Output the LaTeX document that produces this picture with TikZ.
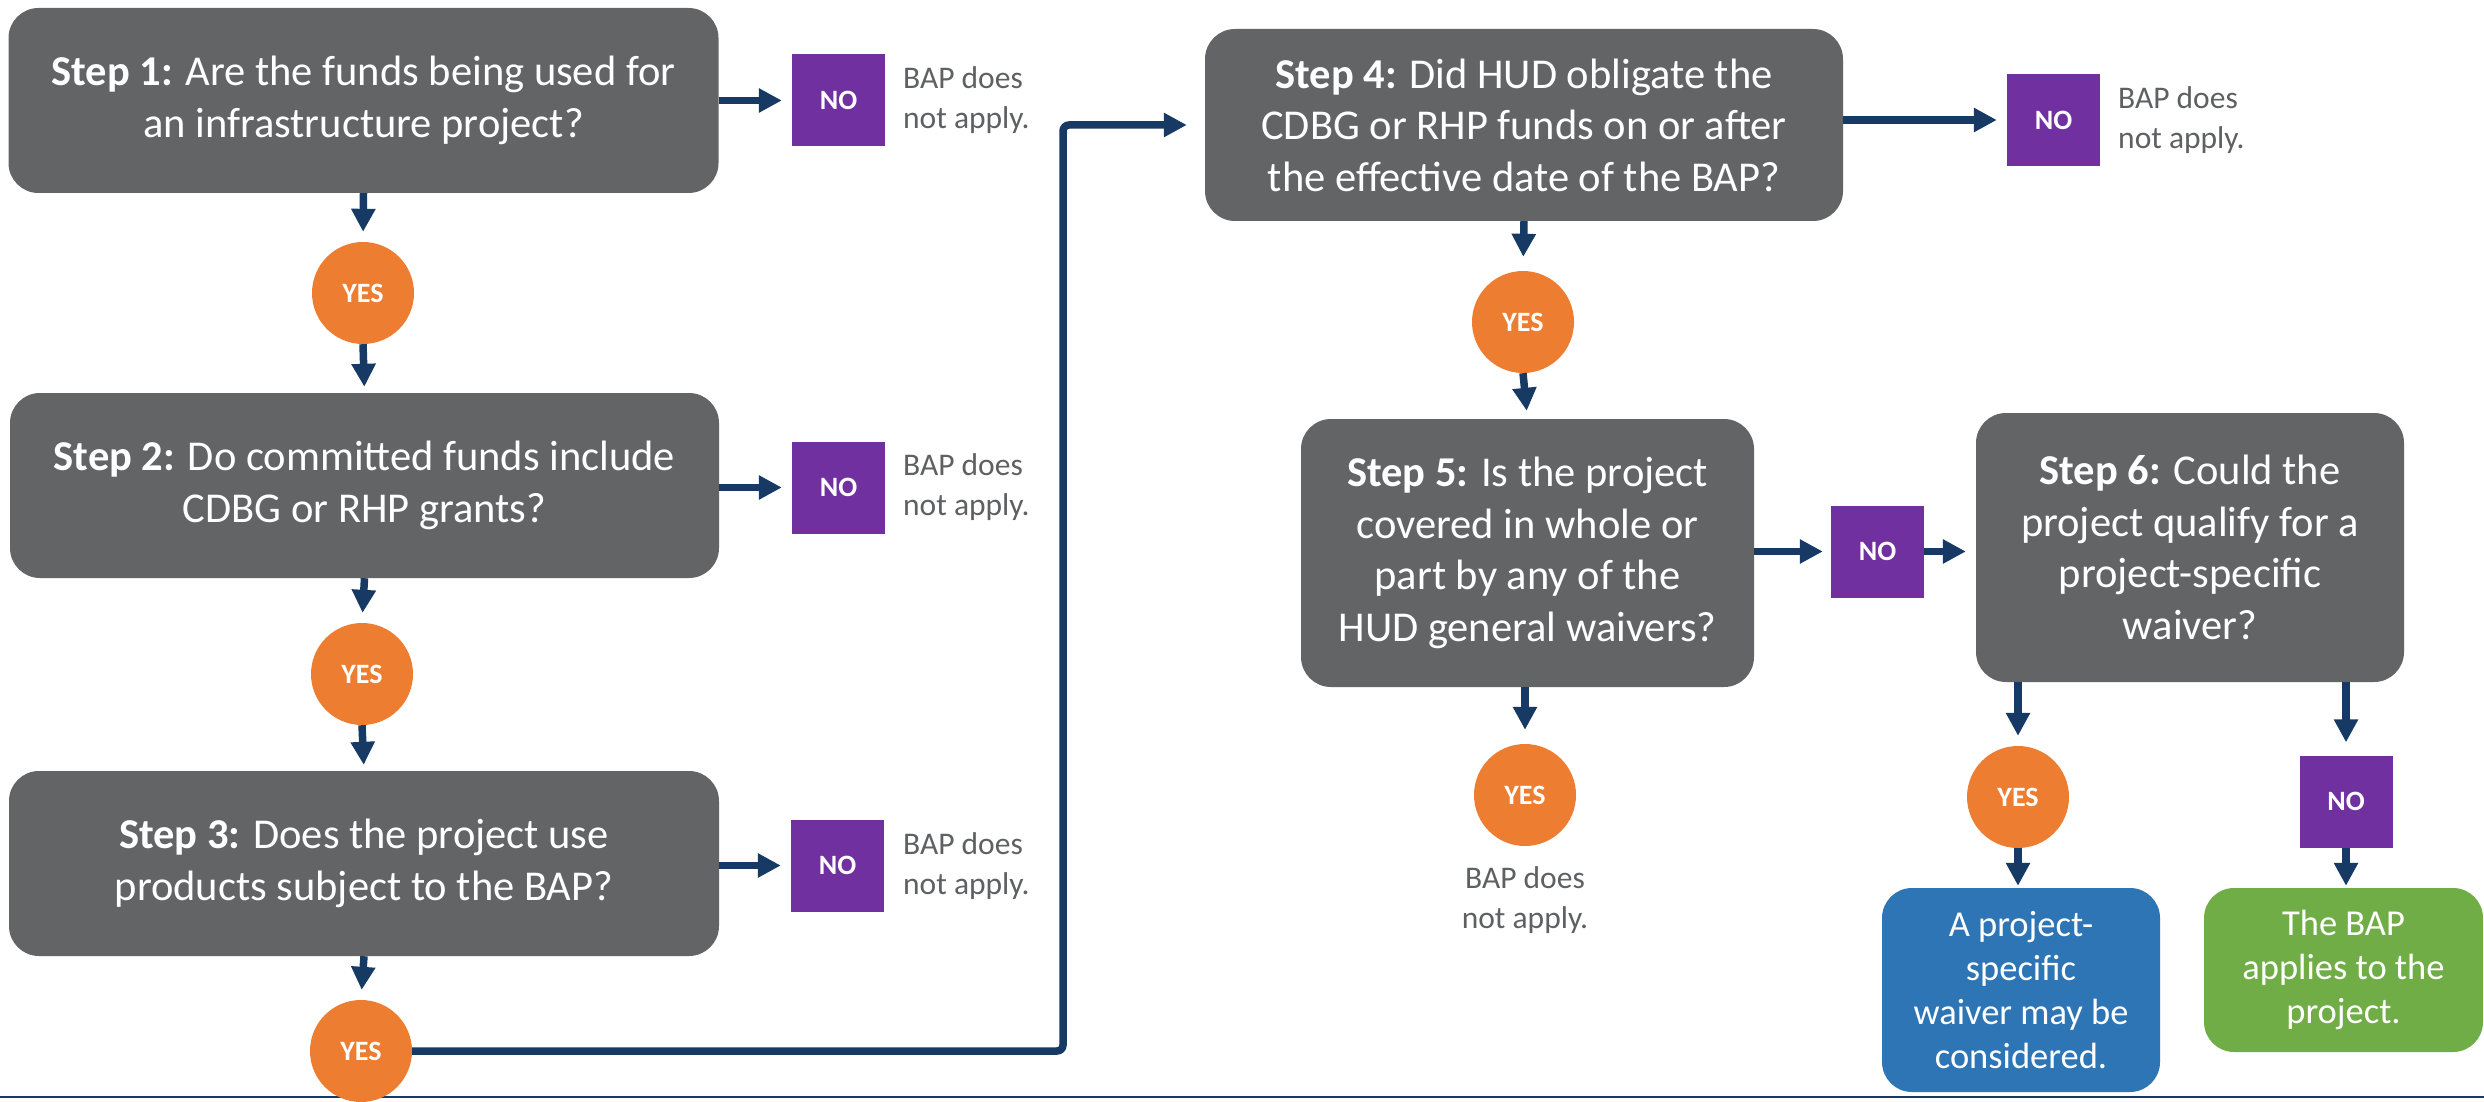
\documentclass[tikz,border=0pt]{standalone}
\usepackage{fontspec}
\setmainfont{Carlito}
\usetikzlibrary{arrows.meta,calc}
\definecolor{boxgray}{HTML}{636466}
\definecolor{nopurple}{HTML}{7030A0}
\definecolor{yesorange}{HTML}{ED7D31}
\definecolor{navy}{HTML}{173A64}
\definecolor{resblue}{HTML}{2E75B6}
\definecolor{resgreen}{HTML}{70AD47}
\definecolor{notegray}{HTML}{5F6062}
\begin{document}
\begin{tikzpicture}[x=1pt,y=-1pt,
 stepbox/.style={fill=boxgray, rounded corners=30pt, text=white, align=center, inner sep=0pt, font=\fontsize{42.5}{51.5}\selectfont},
 nobox/.style={fill=nopurple, text=white, inner sep=0pt, minimum width=93pt, minimum height=92pt, font=\fontsize{28}{34}\selectfont\bfseries},
 yesdot/.style={circle, fill=yesorange, text=white, inner sep=0pt, minimum size=102pt, font=\fontsize{28}{34}\selectfont\bfseries},
 note/.style={text=notegray, inner sep=0pt, font=\fontsize{31.5}{40}\selectfont},
 resbox/.style={rounded corners=30pt, text=white, align=center, inner sep=0pt, font=\fontsize{36.5}{44}\selectfont},
 arr/.style={draw=navy, line width=7.5pt, -{Triangle[length=23pt,width=23pt]}, shorten >=10pt},
]
\useasboundingbox (0,0) rectangle (2484,1102);
\fill[white] (0,0) rectangle (2484,1102);
\draw[navy, line width=2pt] (0,1097) -- (2484,1097);

% left column
\node[stepbox, minimum width=710pt, minimum height=185pt] (s1) at (363.5,100.5)
  {\textbf{Step 1:} Are the funds being used for\\an infrastructure project?};
\node[nobox] (no1) at (838.5,100.5) {NO};
\node[note, align=left, anchor=west] (t1) at (903,100) {BAP does\\not apply.};
\node[yesdot] (y1) at (363,293) {YES};

\node[stepbox, minimum width=709pt, minimum height=185pt] (s2) at (364.5,485.5)
  {\textbf{Step 2:} Do committed funds include\\CDBG or RHP grants?};
\node[nobox] (no2) at (838.5,487.5) {NO};
\node[note, align=left, anchor=west] (t2) at (903,487) {BAP does\\not apply.};
\node[yesdot] (y2) at (362,674) {YES};

\node[stepbox, minimum width=710pt, minimum height=185pt] (s3) at (364,863.5)
  {\textbf{Step 3:} Does the project use\\products subject to the BAP?};
\node[nobox] (no3) at (837.5,865.5) {NO};
\node[note, align=left, anchor=west] (t3) at (903,866) {BAP does\\not apply.};
\node[yesdot] (y3) at (361,1051) {YES};

% right part
\node[stepbox, minimum width=638pt, minimum height=192pt] (s4) at (1524,125)
  {\textbf{Step 4:} Did HUD obligate the\\CDBG or RHP funds on or after\\the effective date of the BAP?};
\node[nobox] (no4) at (2053.5,120) {NO};
\node[note, align=left, anchor=west] (t4) at (2118,120) {BAP does\\not apply.};
\node[yesdot] (y4) at (1523,322) {YES};

\node[stepbox, minimum width=453pt, minimum height=268pt] (s5) at (1527.5,553)
  {\textbf{Step 5:} Is the project\\covered in whole or\\part by any of the\\HUD general waivers?};
\node[nobox] (no5) at (1877.5,551.5) {NO};
\node[stepbox, minimum width=428pt, minimum height=269pt] (s6) at (2190,547.5)
  {\textbf{Step 6:} Could the\\project qualify for a\\project-specific\\waiver?};

\node[yesdot] (y5) at (1525,795) {YES};
\node[note, align=center] (t5) at (1525,900) {BAP does\\not apply.};
\node[yesdot] (y6) at (2018,797) {YES};
\node[nobox] (no6) at (2346,801.5) {NO};

\node[resbox, fill=resblue, minimum width=278pt, minimum height=204pt] (b1) at (2021,990)
  {A project-\\specific\\waiver may be\\considered.};
\node[resbox, fill=resgreen, minimum width=279pt, minimum height=164pt] (g1) at (2343.5,970)
  {The BAP\\applies to the\\project.};

% connectors
\draw[arr] (no1.west -| s1.east) -- (no1.west);
\draw[arr] (s1.south) -- (y1.north);
\draw[arr, shorten >=6pt] (y1.south) -- (s2.north);
\draw[arr] (no2.west -| s2.east) -- (no2.west);
\draw[arr] (s2.south) -- (y2.north);
\draw[arr, shorten >=6pt] (y2.south) -- (s3.north);
\draw[arr] (no3.west -| s3.east) -- (no3.west);
\draw[arr] (s3.south) -- (y3.north);
\coordinate (c1) at (1063,1051);
\draw[arr, rounded corners=6pt, shorten >=18pt] (y3.east) -- (c1) |- (s4.west);

\draw[arr] (no4.west -| s4.east) -- (no4.west);
\draw[arr, shorten >=14pt] (s4.south) -- (y4.north);
\draw[arr, shorten >=8pt] (y4.south) -- (s5.north);
\draw[arr, shorten >=8pt] (no5.west -| s5.east) -- (no5.west);
\draw[arr] (no5.east) -- (no5.east -| s6.west);
\draw[arr, shorten >=14pt] (y5.north |- s5.south) -- (y5.north);
\draw[arr] (y6.north |- s6.south) -- (y6.north);
\draw[arr, shorten >=13pt] (no6.north |- s6.south) -- (no6.north);
\draw[arr, shorten >=2pt] (y6.south) -- (y6.south |- b1.north);
\draw[arr, shorten >=2pt] (no6.south) -- (no6.south |- g1.north);
\end{tikzpicture}
\end{document}
